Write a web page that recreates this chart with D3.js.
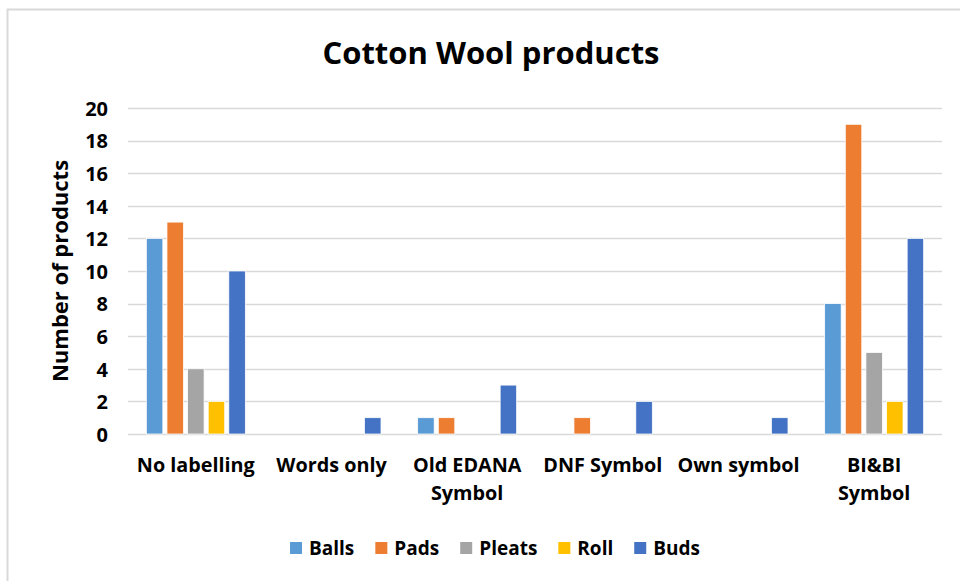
<!DOCTYPE html>
<html>
<head>
<meta charset="utf-8">
<script src="https://cdn.jsdelivr.net/npm/d3@7"></script>
<style>
  html, body { margin: 0; padding: 0; background: #fff; }
  svg { display: block; font-family: "Open Sans", Lato, sans-serif; }
</style>
</head>
<body>
<svg id="chart" width="960" height="581"></svg>
<script>
const categories = ["No labelling", "Words only", "Old EDANA\nSymbol", "DNF Symbol", "Own symbol", "BI&BI\nSymbol"];
const seriesNames = ["Balls", "Pads", "Pleats", "Roll", "Buds"];
const seriesColors = ["#5B9BD5", "#ED7D31", "#A5A5A5", "#FFC000", "#4472C4"];
const balls  = [12, 0, 1, 0, 0, 8];
const pads   = [13, 0, 1, 1, 0, 19];
const pleats = [4, 0, 0, 0, 0, 5];
const roll   = [2, 0, 0, 0, 0, 2];
const buds   = [10, 1, 3, 2, 1, 12];
const yTicks = [0, 2, 4, 6, 8, 10, 12, 14, 16, 18, 20];
const titleText = "Cotton Wool products";
const yLabel = "Number of products";

const seriesValues = [balls, pads, pleats, roll, buds];

const svg = d3.select("#chart");

// outer border (cropped chart frame)
svg.append("rect").attr("x", 7.5).attr("y", 9.5).attr("width", 1000).attr("height", 1000)
  .attr("fill", "#fff").attr("stroke", "#d9d9d9").attr("stroke-width", 2);

const plot = { left: 128, right: 942, top: 108, bottom: 434 };

const x0 = d3.scaleBand().domain(categories).range([plot.left, plot.right])
  .paddingInner(0.24).paddingOuter(0.12);
const x1 = d3.scaleBand().domain(seriesNames).range([0, x0.bandwidth()])
  .paddingInner(0.2).paddingOuter(0.1);
const y = d3.scaleLinear().domain([0, 20]).range([plot.bottom, plot.top]);

// gridlines
svg.append("g").selectAll("line").data(yTicks).join("line")
  .attr("x1", plot.left).attr("x2", plot.right)
  .attr("y1", d => Math.round(y(d)) + 0.5).attr("y2", d => Math.round(y(d)) + 0.5)
  .attr("stroke", "#d9d9d9").attr("stroke-width", 1.5);

// y axis labels
const yAxis = d3.axisLeft(y).tickValues(yTicks).tickSize(0).tickPadding(20);
const yg = svg.append("g").attr("transform", `translate(${plot.left},0)`).call(yAxis);
yg.select(".domain").remove();
yg.selectAll("text").attr("font-family", "'Open Sans', sans-serif").attr("font-weight", "bold")
  .attr("font-size", 20).attr("fill", "#000").attr("dy", "0.36em");

// bars
const groups = svg.append("g").selectAll("g").data(categories).join("g")
  .attr("transform", d => `translate(${x0(d)},0)`);
groups.selectAll("rect").data((c, ci) => seriesNames.map((s, si) => ({ s, si, v: seriesValues[si][ci] })))
  .join("rect")
  .filter(d => d.v > 0)
  .attr("x", d => x1(d.s)).attr("width", x1.bandwidth())
  .attr("y", d => y(d.v)).attr("height", d => y(0) - y(d.v))
  .attr("fill", d => seriesColors[d.si])
  .attr("stroke", "#fff").attr("stroke-width", 0.75);

// x axis labels
const xAxis = d3.axisBottom(x0).tickSize(0).tickFormat("");
const xg = svg.append("g").attr("transform", `translate(0,${plot.bottom})`).call(xAxis);
xg.select(".domain").remove();
categories.forEach(c => {
  const lines = c.split("\n");
  const t = svg.append("text")
    .attr("x", x0(c) + x0.bandwidth() / 2)
    .attr("y", 472)
    .attr("text-anchor", "middle")
    .attr("font-weight", "bold").attr("font-size", 19.8).attr("fill", "#000");
  lines.forEach((l, i) => t.append("tspan").attr("x", x0(c) + x0.bandwidth() / 2)
    .attr("dy", i === 0 ? 0 : 28).text(l));
});

// title
svg.append("text").attr("x", 491).attr("y", 64).attr("text-anchor", "middle")
  .attr("font-weight", "bold").attr("font-size", 31).attr("fill", "#000").text(titleText);

// y axis title
svg.append("text").attr("transform", "translate(68,271) rotate(-90)")
  .attr("text-anchor", "middle").attr("font-weight", "bold").attr("font-size", 22)
  .attr("fill", "#000").text(yLabel);

// legend
const legend = svg.append("g");
const items = legend.selectAll("g").data(seriesNames).join("g");
items.append("rect").attr("width", 12).attr("height", 12).attr("y", -13)
  .attr("fill", (d, i) => seriesColors[i]);
items.append("text").attr("x", 19).attr("y", 0).attr("font-weight", "bold")
  .attr("font-size", 19).attr("fill", "#000").text(d => d);
let cx = 0;
const offsets = [];
items.each(function () {
  const w = 19 + d3.select(this).select("text").node().getComputedTextLength();
  offsets.push(cx);
  cx += w + 21;
});
const totalW = cx - 21;
const startX = 495 - totalW / 2;
items.attr("transform", (d, i) => `translate(${startX + offsets[i]},555)`);
</script>
</body>
</html>
